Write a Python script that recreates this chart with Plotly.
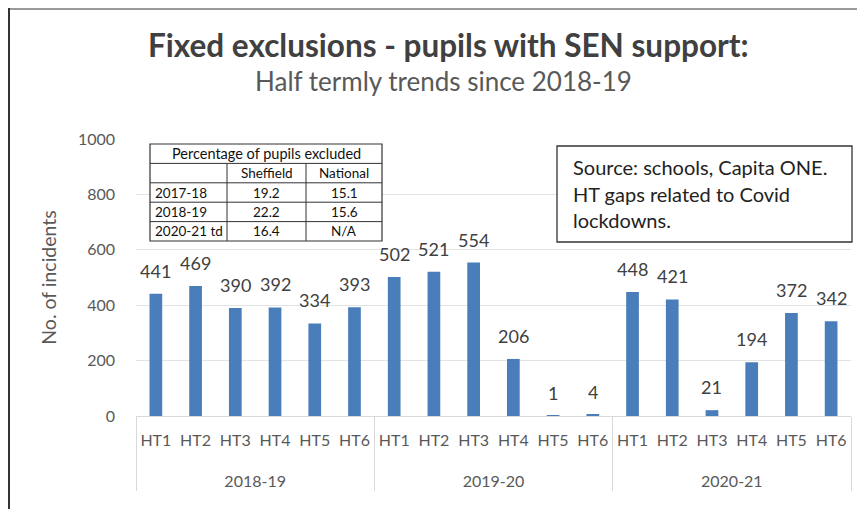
import plotly.graph_objects as go

# ---- data ----
years = ["2018-19"] * 6 + ["2019-20"] * 6 + ["2020-21"] * 6
terms = ["HT1", "HT2", "HT3", "HT4", "HT5", "HT6"] * 3
incidents = [441, 469, 390, 392, 334, 393,
             502, 521, 554, 206, 1, 4,
             448, 421, 21, 194, 372, 342]

table_header = ["", "Sheffield", "National"]
table_years = ["2017-18", "2018-19", "2020-21 td"]
table_sheffield = ["19.2", "22.2", "16.4"]
table_national = ["15.1", "15.6", "N/A"]

title_text = "Fixed exclusions - pupils with SEN support:"
subtitle_text = "Half termly trends since 2018-19"
note_lines = ["Source: schools, Capita ONE.", "HT gaps related to Covid", "lockdowns."]

# ---- geometry (page pixels; the page body adds an 8px offset) ----
OFF = 8
W, H = 865, 509
PL, PR, PT, PB = 136, 851, 139, 416          # plot area in page pixels
ML, MR = PL - OFF, W - (PR - OFF)
MT, MB = PT - OFF, H - (PB - OFF)
PW, PH = W - ML - MR, H - MT - MB


def px(x):
    return (x - OFF - ML) / PW


def py(y):
    return (H - MB - (y - OFF)) / PH


FONT = "Lato, 'Open Sans', sans-serif"
GRAY = "#595959"
DARK = "#404040"

# spacer line under each term label pushes the year row further down
SPACER = "<br><span style='font-size:41px'> </span>"

fig = go.Figure()
fig.add_trace(go.Bar(
    x=[years, [t + SPACER for t in terms]], y=incidents,
    marker=dict(color="#4A7EBB", line=dict(width=0)),
    width=0.32, hoverinfo="y",
))

annotations = []
# data labels
for i, v in enumerate(incidents):
    annotations.append(dict(
        x=i, y=v, xref="x", yref="y", text=str(v), showarrow=False,
        yanchor="bottom", yshift=10,
        font=dict(family=FONT, size=18, color=DARK),
    ))

# title & subtitle
annotations.append(dict(x=px(448), y=py(45), xref="paper", yref="paper",
                        text="<b>" + title_text + "</b>", showarrow=False,
                        xanchor="center", yanchor="middle",
                        font=dict(family=FONT, size=31.5, color=DARK)))
annotations.append(dict(x=px(443), y=py(81), xref="paper", yref="paper",
                        text=subtitle_text, showarrow=False,
                        xanchor="center", yanchor="middle",
                        font=dict(family=FONT, size=26, color=GRAY)))

# note box text
for k, line in enumerate(note_lines):
    annotations.append(dict(x=px(571), y=py(167 + 26.5 * k), xref="paper", yref="paper",
                            text=line, showarrow=False, xanchor="left", yanchor="middle",
                            font=dict(family=FONT, size=20, color="#222222")))

shapes = []
# outer chart border
shapes.append(dict(type="line", xref="paper", yref="paper",
                   x0=px(8), x1=px(880), y0=py(9), y1=py(9),
                   line=dict(color="#9a9a9a", width=2), layer="above"))
shapes.append(dict(type="line", xref="paper", yref="paper",
                   x0=px(9), x1=px(9), y0=py(8), y1=py(530),
                   line=dict(color="#333333", width=2), layer="above"))

# note box
shapes.append(dict(type="rect", xref="paper", yref="paper",
                   x0=px(557), x1=px(852), y0=py(146), y1=py(242),
                   fillcolor="white", line=dict(color="#333333", width=1.3), layer="above"))

# table
tx0, tx1 = 150, 382
ty0, ty1 = 144, 241
col1, col2 = 227, 306
rows = [ty0 + (ty1 - ty0) * k / 5 for k in range(6)]
shapes.append(dict(type="rect", xref="paper", yref="paper",
                   x0=px(tx0), x1=px(tx1), y0=py(ty0), y1=py(ty1),
                   fillcolor="white", line=dict(color="#333333", width=1.2), layer="above"))
for r in rows[1:-1]:
    shapes.append(dict(type="line", xref="paper", yref="paper",
                       x0=px(tx0), x1=px(tx1), y0=py(r), y1=py(r),
                       line=dict(color="#333333", width=1), layer="above"))
for c in (col1, col2):
    shapes.append(dict(type="line", xref="paper", yref="paper",
                       x0=px(c), x1=px(c), y0=py(rows[1]), y1=py(ty1),
                       line=dict(color="#333333", width=1), layer="above"))

TFONT_HEAD = dict(family=FONT, size=14.5, color="#111111")
TFONT = dict(family=FONT, size=13.5, color="#111111")


def mid(a, b):
    return (a + b) / 2


annotations.append(dict(x=px(mid(tx0, tx1)), y=py(mid(rows[0], rows[1])), xref="paper", yref="paper",
                        text="Percentage of pupils excluded", showarrow=False,
                        xanchor="center", yanchor="middle", font=TFONT_HEAD))
annotations.append(dict(x=px(mid(col1, col2)), y=py(mid(rows[1], rows[2])), xref="paper", yref="paper",
                        text=table_header[1], showarrow=False,
                        xanchor="center", yanchor="middle", font=TFONT))
annotations.append(dict(x=px(mid(col2, tx1)), y=py(mid(rows[1], rows[2])), xref="paper", yref="paper",
                        text=table_header[2], showarrow=False,
                        xanchor="center", yanchor="middle", font=TFONT))
for k in range(3):
    yc = py(mid(rows[k + 2], rows[k + 3]))
    annotations.append(dict(x=px(tx0 + 3), y=yc, xref="paper", yref="paper",
                            text=table_years[k], showarrow=False,
                            xanchor="left", yanchor="middle", font=TFONT))
    annotations.append(dict(x=px(mid(col1, col2)), y=yc, xref="paper", yref="paper",
                            text=table_sheffield[k], showarrow=False,
                            xanchor="center", yanchor="middle", font=TFONT))
    annotations.append(dict(x=px(mid(col2, tx1)), y=yc, xref="paper", yref="paper",
                            text=table_national[k], showarrow=False,
                            xanchor="center", yanchor="middle", font=TFONT))

fig.update_layout(
    width=W, height=H,
    margin=dict(l=ML, r=MR, t=MT, b=MB, pad=0, autoexpand=False),
    paper_bgcolor="white", plot_bgcolor="white",
    showlegend=False,
    bargap=0.68,
    font=dict(family=FONT, color=GRAY),
    annotations=annotations,
    shapes=shapes,
    xaxis=dict(
        type="multicategory",
        showline=True, linecolor="#d9d9d9", linewidth=1,
        showgrid=False, ticks="",
        tickfont=dict(family=FONT, size=16, color=GRAY),
        ticklabelstandoff=10,
        showdividers=True, dividercolor="#d9d9d9", dividerwidth=1,
    ),
    yaxis=dict(
        range=[0, 1000], dtick=200,
        showgrid=True, gridcolor="#e3e3e3", gridwidth=1,
        zeroline=False, showline=False, ticks="",
        tickfont=dict(family=FONT, size=16, color=GRAY),
        ticklabelstandoff=20,
        title=dict(text="No. of incidents", standoff=16,
                   font=dict(family=FONT, size=19.5, color=GRAY)),
    ),
)

fig.write_html("out.html")
